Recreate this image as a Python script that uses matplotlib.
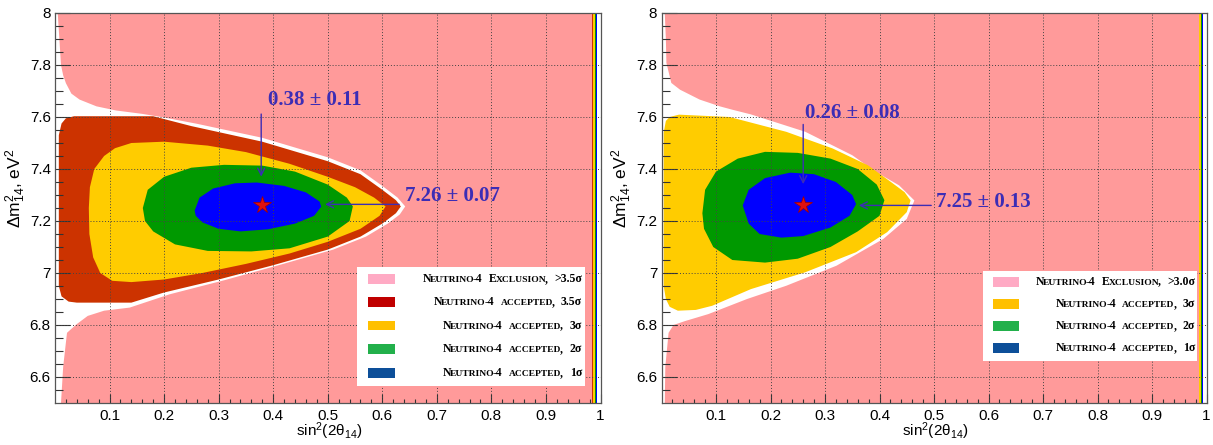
import re

import matplotlib.pyplot as plt
from matplotlib.offsetbox import AnnotationBbox, HPacker, TextArea
from matplotlib.patches import Rectangle

plt.rcParams['font.family'] = ['Liberation Sans', 'DejaVu Sans']
plt.rcParams['mathtext.default'] = 'regular'

PINK = '#ff9a9a'
RED = '#cc3300'
YELLOW = '#ffcc00'
GREEN = '#009900'
BLUE = '#0000ff'
ANNOT = '#3c2db5'

X_TICKS = [0.1, 0.2, 0.3, 0.4, 0.5, 0.6, 0.7, 0.8, 0.9, 1.0]
Y_TICKS = [6.6, 6.8, 7.0, 7.2, 7.4, 7.6, 7.8, 8.0]

# ---- left panel (3.5 sigma analysis) ----
L_LOBE_X = [0.0, 0.005, 0.008, 0.011, 0.015, 0.02, 0.03, 0.045, 0.076, 0.112, 0.16, 0.2, 0.26, 0.38,
            0.5, 0.56, 0.6, 0.628, 0.642, 0.632, 0.61, 0.57, 0.51, 0.41, 0.31, 0.21, 0.137, 0.09,
            0.06, 0.039, 0.022, 0.015, 0.011, 0.0]
L_LOBE_Y = [8.0, 8.0, 7.9, 7.8, 7.76, 7.73, 7.69, 7.667, 7.641, 7.625, 7.612, 7.598, 7.574, 7.52,
            7.445, 7.395, 7.335, 7.29, 7.256, 7.225, 7.19, 7.14, 7.09, 7.03, 6.972, 6.918, 6.867, 6.855,
            6.835, 6.802, 6.77, 6.64, 6.5, 6.5]
L_RED_X = [0.007, 0.012, 0.02, 0.035, 0.18, 0.25, 0.38, 0.5, 0.56, 0.6, 0.625, 0.634, 0.625, 0.6,
           0.56, 0.5, 0.4, 0.3, 0.2, 0.14, 0.04, 0.025, 0.012, 0.007]
L_RED_Y = [7.53, 7.575, 7.595, 7.603, 7.603, 7.565, 7.505, 7.43, 7.38, 7.32, 7.28, 7.256, 7.23, 7.19,
           7.14, 7.09, 7.03, 6.975, 6.925, 6.886, 6.886, 6.89, 6.91, 6.95]
L_YEL_X = [0.062, 0.064, 0.072, 0.09, 0.11, 0.14, 0.2, 0.28, 0.35, 0.43, 0.5, 0.55, 0.585, 0.606,
           0.595, 0.56, 0.5, 0.43, 0.35, 0.27, 0.2, 0.14, 0.105, 0.083, 0.07, 0.063]
L_YEL_Y = [7.25, 7.33, 7.4, 7.45, 7.48, 7.5, 7.505, 7.49, 7.465, 7.42, 7.37, 7.33, 7.29, 7.256,
           7.22, 7.17, 7.12, 7.075, 7.035, 7.0, 6.975, 6.965, 6.97, 7.0, 7.06, 7.15]
L_GRN_X = [0.161, 0.17, 0.2, 0.25, 0.31, 0.38, 0.44, 0.5, 0.535, 0.546, 0.54, 0.5, 0.43, 0.36,
           0.28, 0.22, 0.18, 0.165]
L_GRN_Y = [7.25, 7.32, 7.37, 7.405, 7.416, 7.413, 7.39, 7.34, 7.29, 7.256, 7.2, 7.14, 7.095, 7.083,
           7.085, 7.11, 7.16, 7.2]
L_BLU_X = [0.256, 0.265, 0.29, 0.33, 0.37, 0.42, 0.46, 0.485, 0.488, 0.475, 0.44, 0.39, 0.34, 0.3,
           0.27, 0.258]
L_BLU_Y = [7.24, 7.29, 7.325, 7.345, 7.348, 7.335, 7.31, 7.275, 7.255, 7.22, 7.19, 7.168, 7.16, 7.17,
           7.195, 7.22]
L_STRIPS = [(0.984, 0.987, RED), (0.987, 0.990, YELLOW), (0.990, 0.992, GREEN), (0.992, 0.994, BLUE),
            (0.994, 1.0, 'white')]
L_BEST = (0.38, 7.26)
L_SIN_TEXT = '0.38 ± 0.11'
L_DM_TEXT = '7.26 ± 0.07'
L_LEG_LABELS = ['Neutrino-4 Exclusion, >3.5σ', 'Neutrino-4 accepted, 3.5σ', 'Neutrino-4 accepted, 3σ',
                'Neutrino-4 accepted, 2σ', 'Neutrino-4 accepted, 1σ']
L_LEG_COLORS = ['#ffaac4', '#c00000', '#ffc000', '#22b04b', '#0d4f99']

# ---- right panel (3 sigma analysis) ----
R_LOBE_X = [0.0, 0.006, 0.008, 0.009, 0.018, 0.034, 0.07, 0.107, 0.13, 0.164, 0.264, 0.35, 0.393,
            0.436, 0.464, 0.45, 0.407, 0.321, 0.229, 0.157, 0.086, 0.043, 0.022, 0.013, 0.007, 0.006, 0.0]
R_LOBE_Y = [8.0, 8.0, 7.9, 7.808, 7.731, 7.705, 7.667, 7.641, 7.628, 7.61, 7.543, 7.453, 7.389,
            7.337, 7.279, 7.208, 7.131, 7.028, 6.951, 6.9, 6.842, 6.815, 6.8, 6.77, 6.64, 6.5, 6.5]
R_YEL_X = [0.004, 0.008, 0.015, 0.032, 0.125, 0.229, 0.314, 0.379, 0.421, 0.446, 0.457, 0.45, 0.414,
           0.357, 0.264, 0.164, 0.093, 0.063, 0.03, 0.015, 0.008, 0.004]
R_YEL_Y = [7.54, 7.585, 7.6, 7.609, 7.6, 7.543, 7.479, 7.414, 7.35, 7.311, 7.279, 7.234, 7.157,
           7.08, 7.003, 6.938, 6.874, 6.858, 6.855, 6.87, 6.9, 6.95]
R_GRN_X = [0.075, 0.08, 0.1, 0.14, 0.19, 0.25, 0.31, 0.36, 0.395, 0.409, 0.4, 0.36, 0.31, 0.25,
           0.19, 0.13, 0.095, 0.078]
R_GRN_Y = [7.23, 7.32, 7.39, 7.44, 7.466, 7.462, 7.44, 7.4, 7.34, 7.28, 7.22, 7.16, 7.1, 7.055,
           7.04, 7.05, 7.1, 7.17]
R_BLU_X = [0.149, 0.16, 0.19, 0.236, 0.28, 0.32, 0.35, 0.357, 0.345, 0.31, 0.26, 0.22, 0.18, 0.16]
R_BLU_Y = [7.26, 7.32, 7.365, 7.386, 7.38, 7.35, 7.3, 7.265, 7.22, 7.175, 7.142, 7.136, 7.15, 7.19]
R_STRIPS = [(0.986, 0.989, YELLOW), (0.989, 0.991, GREEN), (0.991, 0.994, BLUE), (0.994, 1.0, 'white')]
R_BEST = (0.26, 7.26)
R_SIN_TEXT = '0.26 ± 0.08'
R_DM_TEXT = '7.25 ± 0.13'
R_LEG_LABELS = ['Neutrino-4 Exclusion, >3.0σ', 'Neutrino-4 accepted, 3σ', 'Neutrino-4 accepted, 2σ',
                'Neutrino-4 accepted, 1σ']
R_LEG_COLORS = ['#ffaac4', '#ffc000', '#22b04b', '#0d4f99']


def small_caps(ax, x_right, y, label, size):
    # Fake small caps: lowercase ascii runs become smaller capitals; packed on a common baseline.
    words = []
    for word in label.split(' '):
        pieces = []
        for tok in re.findall(r'[a-z]+|[^a-z]+', word):
            small = 'a' <= tok[0] <= 'z'
            props = dict(fontsize=size * 0.8 if small else size, fontweight='bold',
                         family=['Liberation Serif', 'DejaVu Serif'], color='black')
            pieces.append(TextArea(tok.upper() if small else tok, textprops=props))
        words.append(HPacker(children=pieces, align='baseline', pad=0, sep=-1))
    box = HPacker(children=words, align='baseline', pad=0, sep=size * 0.55)
    ab = AnnotationBbox(box, (x_right, y), xycoords='data', box_alignment=(1, 0.5),
                        frameon=False, pad=0)
    ab.set_zorder(6)
    ax.add_artist(ab)


def draw_panel(ax, lobe, regions, strips, best, sin_text, dm_text, sin_pos, dm_pos,
               v_arrow, h_arrow, leg_box, leg_labels, leg_colors, leg_y, leg_sw_x, leg_text_x):
    ax.set_xlim(0, 1)
    ax.set_ylim(6.5, 8.0)
    ax.set_facecolor(PINK)
    ax.fill(lobe[0], lobe[1], color='white', lw=0, zorder=0.5)
    for k, (xs, ys, c) in enumerate(regions):
        ax.fill(xs, ys, color=c, lw=0, zorder=1 + 0.1 * k)
    for x0, x1, c in strips:
        ax.axvspan(x0, x1, color=c, lw=0, zorder=1)

    for xv in X_TICKS[:-1]:
        ax.axvline(xv, color='#444444', lw=0.7, ls=(0, (1, 2)), zorder=2)
    for yv in Y_TICKS[:-1]:
        ax.axhline(yv, color='#444444', lw=0.7, ls=(0, (1, 2)), zorder=2)

    ax.plot(*best, marker='*', ms=13, color='#e01010', mec='#a00000', mew=0.5, zorder=4)
    for a in (v_arrow, h_arrow):
        ax.annotate('', xy=a[1], xytext=a[0],
                    arrowprops=dict(arrowstyle='->,head_length=0.5,head_width=0.25', color=ANNOT, lw=1),
                    zorder=4)
    for s, pos in ((sin_text, sin_pos), (dm_text, dm_pos)):
        ax.text(pos[0], pos[1], s, color=ANNOT, fontsize=15, fontweight='bold',
                family='Liberation Serif', ha='left', va='center', zorder=5)

    # legend drawn by hand (right aligned small-caps labels)
    x0, x1, y0, y1 = leg_box
    ax.add_patch(Rectangle((x0, y0), x1 - x0, y1 - y0, facecolor='white', edgecolor='none', zorder=5))
    for lab, c, yy in zip(leg_labels, leg_colors, leg_y):
        ax.add_patch(Rectangle((leg_sw_x[0], yy - 0.019), leg_sw_x[1] - leg_sw_x[0], 0.038,
                               facecolor=c, edgecolor='none', zorder=6))
        small_caps(ax, leg_text_x, yy, lab, 8.5)

    ax.set_xticks(X_TICKS)
    ax.set_xticklabels(['%g' % v for v in X_TICKS])
    ax.set_yticks(Y_TICKS)
    ax.set_yticklabels(['%g' % v for v in Y_TICKS])
    ax.set_xticks([i / 50 for i in range(1, 50)], minor=True)
    ax.set_yticks([6.5 + i * 0.05 for i in range(1, 30)], minor=True)
    ax.tick_params(which='both', direction='in', top=False, right=False, colors='#333333',
                   labelcolor='black', labelsize=11)
    ax.tick_params(axis='x', which='major', length=6.5, width=0.8, pad=4)
    ax.tick_params(axis='x', which='minor', length=3.2, width=0.8)
    ax.tick_params(axis='y', which='major', length=11, width=0.8, pad=3)
    ax.tick_params(axis='y', which='minor', length=5.8, width=0.8)
    for sp in ax.spines.values():
        sp.set_color('#555555')
        sp.set_linewidth(0.9)
        sp.set_zorder(7)

    ax.set_xlabel(r'sin$^{2}$(2$\theta_{14}$)', fontsize=11, labelpad=0)
    ax.xaxis.set_label_coords(0.502, -0.045)
    ax.set_ylabel(r'$\Delta$m$^{2}_{14}$, eV$^{2}$', fontsize=12.5)
    ax.yaxis.set_label_coords(-0.05, 0.55)


fig = plt.figure(figsize=(12.13, 4.45), dpi=100)
ax_l = fig.add_axes([55 / 1213, 42 / 445, 545.5 / 1213, 390 / 445])
ax_r = fig.add_axes([661.5 / 1213, 42 / 445, 545 / 1213, 390 / 445])

draw_panel(ax_l, (L_LOBE_X, L_LOBE_Y),
           [(L_RED_X, L_RED_Y, RED), (L_YEL_X, L_YEL_Y, YELLOW), (L_GRN_X, L_GRN_Y, GREEN),
            (L_BLU_X, L_BLU_Y, BLUE)],
           L_STRIPS, L_BEST, L_SIN_TEXT, L_DM_TEXT, (0.39, 7.665), (0.642, 7.297),
           ((0.378, 7.622), (0.378, 7.36)), ((0.636, 7.264), (0.49, 7.264)),
           (0.554, 0.972, 6.565, 7.022), L_LEG_LABELS, L_LEG_COLORS,
           [6.977, 6.889, 6.798, 6.708, 6.616], (0.574, 0.623), 0.966)

draw_panel(ax_r, (R_LOBE_X, R_LOBE_Y),
           [(R_YEL_X, R_YEL_Y, YELLOW), (R_GRN_X, R_GRN_Y, GREEN), (R_BLU_X, R_BLU_Y, BLUE)],
           R_STRIPS, R_BEST, R_SIN_TEXT, R_DM_TEXT, (0.264, 7.614), (0.504, 7.273),
           ((0.26, 7.582), (0.26, 7.331)), ((0.5, 7.26), (0.357, 7.26)),
           (0.590, 0.983, 6.662, 7.007), R_LEG_LABELS, R_LEG_COLORS,
           [6.967, 6.882, 6.796, 6.710], (0.608, 0.656), 0.979)

fig.savefig('out.png', dpi=100)
